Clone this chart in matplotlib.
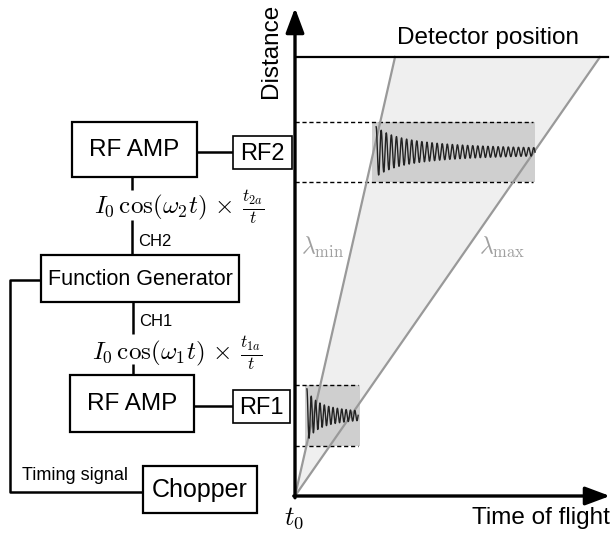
import numpy as np
import matplotlib
matplotlib.use("Agg")
import matplotlib.pyplot as plt
from matplotlib.patches import Rectangle

plt.rcParams["font.family"] = ["Liberation Sans", "DejaVu Sans"]
plt.rcParams["mathtext.fontset"] = "cm"

# ---- time-of-flight diagram values (time in units of lambda_max arrival, distance in units of L) ----
detector_distance = 1.0
arrival_lambda_min = 0.328
arrival_lambda_max = 1.0
detector_line_end = 1.026

rf_labels = ["RF1", "RF2"]
rf_centers = [0.183, 0.784]          # flipper positions along the flight path
rf_half_heights = [0.069, 0.068]
rf_windows = [(0.033, 0.213), (0.252, 0.787)]   # time windows with RF field on
rf_dash_ends = [0.207, 0.780]
rf_wave_spans = [(0.039, 0.207), (0.266, 0.787)]
rf_frequencies = [70.0, 60.0]        # cycles per time unit
rf_amplitudes = [0.061, 0.057]       # I0 at the start of each window
rf_decay_ratios = [5.4, 6.0]         # t / t_a reached at the end of each window

# ---- block diagram texts ----
amp_label = "RF AMP"
fg_label = "Function Generator"
chopper_label = "Chopper"
ch_labels = ["CH1", "CH2"]
signal_formulas = [r"$I_0\,\cos(\omega_1 t)\,\times\,\frac{t_{1a}}{t}$",
                   r"$I_0\,\cos(\omega_2 t)\,\times\,\frac{t_{2a}}{t}$"]
timing_label = "Timing signal"

W, H = 613, 536
fig = plt.figure(figsize=(W / 100, H / 100), dpi=100)

# ---------------- right panel: distance vs time of flight ----------------
ox, oy = 295, 496
px_per_t = 305.0
px_per_d = 439.0
xr, yt = 610, 8
axr = fig.add_axes([ox / W, (H - oy) / H, (xr - ox) / W, (oy - yt) / H])
axr.set_xlim(0, (xr - ox) / px_per_t)
axr.set_ylim(0, (oy - yt) / px_per_d)
axr.axis("off")

L = detector_distance
axr.fill([0, arrival_lambda_min, arrival_lambda_max], [0, L, L],
         color="#efefef", lw=0, zorder=1)

for c, hh, (w0, w1), dend, (s0, s1), f, a0, r in zip(
        rf_centers, rf_half_heights, rf_windows, rf_dash_ends,
        rf_wave_spans, rf_frequencies, rf_amplitudes, rf_decay_ratios):
    axr.add_patch(Rectangle((w0, c - hh), w1 - w0, 2 * hh,
                            facecolor="#cfcfcf", edgecolor="none", zorder=2))
    for yy in (c - hh, c + hh):
        axr.plot([0, dend], [yy, yy], color="black", lw=1.0,
                 dashes=(3, 2), zorder=3)
    t = np.linspace(s0, s1, 3000)
    # decaying RF current: I0 cos(w t) * t_a / t, with t running from t_a to r * t_a
    t_over_ta = 1.0 + (r - 1.0) * (t - s0) / (s1 - s0)
    y = c + a0 * np.cos(2 * np.pi * f * (t - s0)) / t_over_ta
    axr.plot(t, y, color="#222222", lw=1.0, zorder=5)

axr.plot([0, arrival_lambda_min], [0, L], color="#999999", lw=1.6, zorder=4)
axr.plot([0, arrival_lambda_max], [0, L], color="#999999", lw=1.6, zorder=4)
axr.plot([0, detector_line_end], [L, L], color="black", lw=1.6, zorder=4)

# axes arrows
x_max = axr.get_xlim()[1]
y_max = axr.get_ylim()[1]
arrow_kw = dict(arrowstyle="-|>,head_length=0.75,head_width=0.28", color="black",
                lw=2.4, shrinkA=0, shrinkB=0, mutation_scale=20)
axr.annotate("", xy=(x_max, 0), xytext=(-0.004, 0), arrowprops=arrow_kw,
             annotation_clip=False, zorder=6)
axr.annotate("", xy=(0, y_max), xytext=(0, -0.004), arrowprops=arrow_kw,
             annotation_clip=False, zorder=6)

axr.text(0.633, 1.043, "Detector position", fontsize=17.5, ha="center",
         va="center", zorder=6)
axr.text(1.033, -0.05, "Time of flight", fontsize=17.5, ha="right",
         va="center", clip_on=False)
axr.text(-0.004, -0.05, r"$t_0$", fontsize=19, ha="center", va="center",
         clip_on=False)
axr.text(-0.078, 1.015, "Distance", fontsize=17.5, rotation=90, ha="center",
         va="center", clip_on=False)
axr.text(0.090, 0.567, r"$\lambda_{\rm min}$", fontsize=17, color="#a0a0a0",
         ha="center", va="center")
axr.text(0.679, 0.565, r"$\lambda_{\rm max}$", fontsize=17, color="#a0a0a0",
         ha="center", va="center")

# ---------------- left panel: electronics block diagram (pixel frame) ----------------
axl = fig.add_axes([0, 0, 1, 1])
axl.set_xlim(0, W)
axl.set_ylim(H, 0)
axl.axis("off")
axl.patch.set_alpha(0)

def box(x0, y0, x1, y1, label, size, lw=1.6):
    axl.add_patch(Rectangle((x0, y0), x1 - x0, y1 - y0, facecolor="white",
                            edgecolor="black", lw=lw, zorder=3))
    axl.text((x0 + x1) / 2, (y0 + y1) / 2 + 1, label, fontsize=size,
             ha="center", va="center", zorder=4)

def line(xs, ys, lw=1.8):
    axl.plot(xs, ys, color="black", lw=lw, zorder=2, solid_capstyle="butt")

# upper amplifier and RF2 coil
box(72, 122, 197, 177, amp_label, 17.5)
box(233, 136, 292, 169, rf_labels[1], 17, lw=1.2)
line([197, 233], [152, 152])
line([132, 132], [177, 190])
axl.text(179, 207, signal_formulas[1], fontsize=18, ha="center", va="center")
line([132, 132], [220, 255])
axl.text(138, 241, ch_labels[1], fontsize=12, ha="left", va="center")

# function generator
box(41, 255, 239, 302, fg_label, 15.5)

# lower amplifier and RF1 coil
line([133, 133], [302, 334])
axl.text(139, 321, ch_labels[0], fontsize=12, ha="left", va="center")
axl.text(177, 353, signal_formulas[0], fontsize=18, ha="center", va="center")
line([133, 133], [364, 375])
box(70, 375, 194, 432, amp_label, 17.5)
box(233, 390, 290, 423, rf_labels[0], 17, lw=1.2)
line([194, 233], [406, 406])

# chopper timing loop
line([41, 10, 10, 143], [280, 280, 492, 492])
axl.text(22, 476, timing_label, fontsize=13, ha="left", va="center")
box(143, 466, 257, 513, chopper_label, 18)

fig.savefig("out.png", dpi=100)
